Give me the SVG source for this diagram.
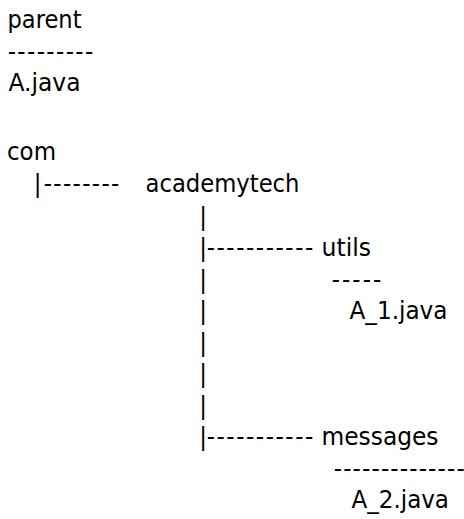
<svg xmlns="http://www.w3.org/2000/svg" width="464" height="519" viewBox="0 0 464 519">
  <style>
    text {
      font-family: "DejaVu Sans Condensed", "DejaVu Sans", "Liberation Sans", sans-serif;
      font-stretch: condensed;
      font-size: 25.5px;
      fill: #000000;
    }
    .pipe { text-anchor: middle; }
  </style>
  <rect width="464" height="519" fill="#ffffff"/>

  <!-- package / file nodes -->
  <g id="node-parent">
    <text x="7.5" y="28" textLength="74" lengthAdjust="spacingAndGlyphs">parent</text>
    <text x="7.7" y="60" textLength="85.6" lengthAdjust="spacing">---------</text>
  </g>
  <g id="node-a-java">
    <text x="8.5" y="91" textLength="72" lengthAdjust="spacingAndGlyphs">A.java</text>
  </g>
  <g id="node-com">
    <text x="7" y="160" textLength="49" lengthAdjust="spacingAndGlyphs">com</text>
  </g>
  <g id="node-academytech">
    <text x="145.5" y="192" textLength="154" lengthAdjust="spacingAndGlyphs">academytech</text>
  </g>
  <g id="node-utils">
    <text x="321.5" y="256" textLength="49.5" lengthAdjust="spacingAndGlyphs">utils</text>
    <text x="331.7" y="287.5" textLength="49.6" lengthAdjust="spacing">-----</text>
  </g>
  <g id="node-a1-java">
    <text x="349.5" y="318.5" textLength="98" lengthAdjust="spacingAndGlyphs">A_1.java</text>
  </g>
  <g id="node-messages">
    <text x="321.5" y="445" textLength="117" lengthAdjust="spacingAndGlyphs">messages</text>
    <text x="333.7" y="476.5" textLength="131" lengthAdjust="spacing">--------------</text>
  </g>
  <g id="node-a2-java">
    <text x="351.5" y="508" textLength="97.5" lengthAdjust="spacingAndGlyphs">A_2.java</text>
  </g>

  <!-- tree connectors drawn with pipe and dash characters -->
  <g id="connectors">
    <!-- com to academytech -->
    <text class="pipe" x="37.5" y="192">|</text>
    <text x="43.7" y="192" textLength="75.6" lengthAdjust="spacing">--------</text>

    <!-- academytech trunk -->
    <text class="pipe" x="203" y="224.5">|</text>
    <text class="pipe" x="203" y="256">|</text>
    <text x="206.7" y="256" textLength="106.6" lengthAdjust="spacing">-----------</text>
    <text class="pipe" x="203" y="287.5">|</text>
    <text class="pipe" x="203" y="318.5">|</text>
    <text class="pipe" x="203" y="350.5">|</text>
    <text class="pipe" x="203" y="382">|</text>
    <text class="pipe" x="203" y="413.5">|</text>
    <text class="pipe" x="203" y="445">|</text>
    <text x="206.7" y="445" textLength="106.6" lengthAdjust="spacing">-----------</text>
  </g>
</svg>
